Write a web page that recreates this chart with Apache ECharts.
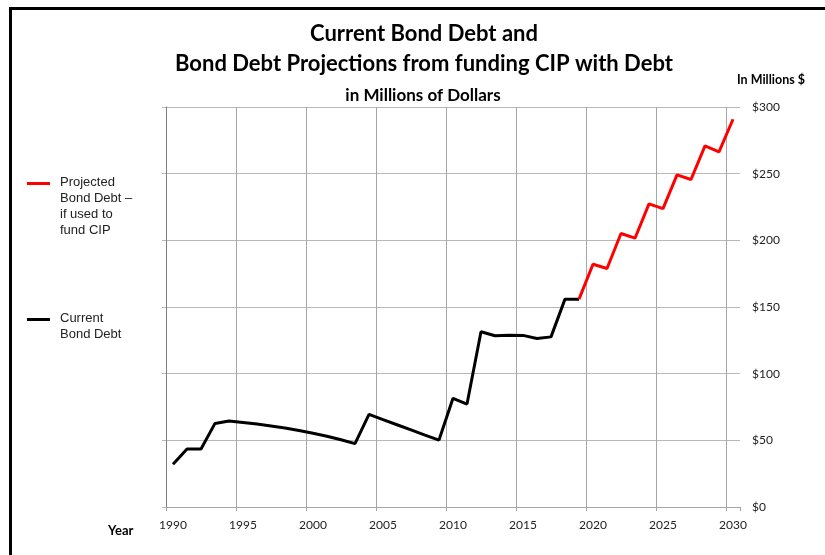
<!DOCTYPE html>
<html>
<head>
<meta charset="utf-8">
<script src="https://cdn.jsdelivr.net/npm/echarts@6/dist/echarts.min.js"></script>
<style>
  html, body { margin: 0; padding: 0; background: #fff; }
  #chart { width: 825px; height: 555px; }
</style>
</head>
<body>
<div id="chart"></div>
<script>
// years on the category axis
var years = [];
for (var y = 1990; y <= 2030; y++) years.push(String(y));

// current bond debt, 1990 - 2019 (millions $)
var currentDebt = [
  32.0, 43.5, 43.5, 62.7, 64.5, 63.4, 62.2, 60.8, 59.2, 57.4,
  55.3, 53.1, 50.4, 47.5, 69.5, 65.6, 61.7, 57.8, 53.9, 50.2,
  81.5, 77.2, 131.4, 128.4, 128.9, 128.7, 126.4, 127.6, 155.9, 155.9
];

// projected bond debt if used to fund CIP, 2019 - 2030
var projectedDebt = [
  155.9, 182.1, 178.9, 205.1, 201.6, 227.3, 223.8, 249.1, 245.6, 270.8, 266.3, 290.8
];

var titleLines = ['Current Bond Debt and', 'Bond Debt Projections from funding CIP with Debt'];
var subTitle = 'in Millions of Dollars';
var legendProjected = ['Projected', 'Bond Debt \u2013', 'if used to', 'fund CIP'];
var legendCurrent = ['Current', 'Bond Debt'];

// pad the series to the full year range
var currentData = years.map(function (yr, i) { return i < currentDebt.length ? currentDebt[i] : null; });
var projStart = years.indexOf('2019');
var projectedData = years.map(function (yr, i) {
  return i >= projStart ? projectedDebt[i - projStart] : null;
});

// vertical grid lines every 5 years; the closing edge line is left out
var vLineColors = [];
for (var k = 0; k < 9; k++) vLineColors.push('#a6a6a6');
vLineColors.push('rgba(0,0,0,0)');

var myChart = echarts.init(document.getElementById('chart'));
var titleFont = 'Lato, "Open Sans", sans-serif';
var option = {
  animation: false,
  backgroundColor: '#fff',
  title: [
    {
      text: titleLines.join('\n'),
      left: 419,
      textAlign: 'center',
      top: 14,
      textStyle: { fontFamily: titleFont, fontSize: 22, fontWeight: 'bold', color: '#000', lineHeight: 30 }
    },
    {
      text: subTitle,
      left: 418,
      textAlign: 'center',
      top: 82,
      textStyle: { fontFamily: titleFont, fontSize: 17, fontWeight: 'bold', color: '#000' }
    },
    {
      text: 'In Millions $',
      left: 732,
      top: 68,
      textStyle: { fontFamily: titleFont, fontSize: 12.5, fontWeight: 'bold', color: '#000' }
    },
    {
      text: 'Year',
      left: 103,
      top: 519,
      textStyle: { fontFamily: titleFont, fontSize: 13, fontWeight: 'bold', color: '#000' }
    }
  ],
  grid: { left: 166, right: 85, top: 107, bottom: 48 },
  xAxis: {
    type: 'category',
    data: years,
    boundaryGap: true,
    axisLine: { lineStyle: { color: '#a6a6a6', width: 1 } },
    axisTick: { show: true, interval: 4, length: 4, lineStyle: { color: '#a6a6a6' } },
    axisLabel: { interval: 4, margin: 12, color: '#222', fontFamily: titleFont, fontSize: 12 },
    splitLine: { show: true, interval: 4, lineStyle: { color: vLineColors, width: 1 } }
  },
  yAxis: [
    {
      type: 'value',
      position: 'right',
      min: 0, max: 300, interval: 50,
      axisLine: { show: false },
      axisTick: { show: false },
      axisLabel: {
        margin: 12, color: '#222', fontFamily: titleFont, fontSize: 12,
        formatter: function (v) { return '$' + v; }
      },
      splitLine: { show: true, lineStyle: { color: '#b8b8b8', width: 1 } }
    },
    {
      type: 'value',
      position: 'left',
      min: 0, max: 300, interval: 50,
      axisLine: { show: true, lineStyle: { color: '#808080', width: 1 } },
      axisTick: { show: true, length: 4, lineStyle: { color: '#b8b8b8' } },
      axisLabel: { show: false },
      splitLine: { show: false }
    }
  ],
  series: [
    {
      name: 'Current Bond Debt',
      type: 'line',
      data: currentData,
      showSymbol: false,
      yAxisIndex: 0,
      lineStyle: { color: '#000', width: 3 },
      itemStyle: { color: '#000' }
    },
    {
      name: 'Projected Bond Debt',
      type: 'line',
      data: projectedData,
      showSymbol: false,
      yAxisIndex: 0,
      lineStyle: { color: '#ff0000', width: 3 },
      itemStyle: { color: '#ff0000' }
    }
  ],
  graphic: [
    // outer frame
    { type: 'rect', shape: { x: 10.5, y: 8.5, width: 840, height: 600 }, style: { fill: 'none', stroke: '#000', lineWidth: 3 } },
    // legend
    { type: 'line', shape: { x1: 27, y1: 183.5, x2: 50, y2: 183.5 }, style: { stroke: '#ff0000', lineWidth: 3 } },
    { type: 'text', left: 60, top: 174, style: { text: legendProjected.join('\n'), font: '13px "Liberation Sans", Arial, sans-serif', fill: '#222', lineHeight: 16 } },
    { type: 'line', shape: { x1: 27, y1: 319.5, x2: 50, y2: 319.5 }, style: { stroke: '#000', lineWidth: 3 } },
    { type: 'text', left: 60, top: 310, style: { text: legendCurrent.join('\n'), font: '13px "Liberation Sans", Arial, sans-serif', fill: '#222', lineHeight: 16 } }
  ]
};
myChart.setOption(option);
</script>
</body>
</html>
